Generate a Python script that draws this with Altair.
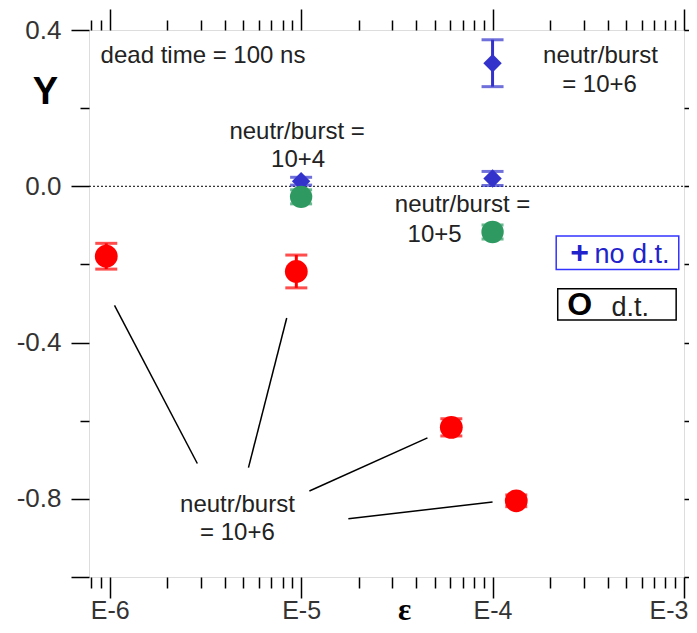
import altair as alt
import pandas as pd

# ---- data ----
red_x = [9.6e-7, 9.44e-6, 6.09e-5, 1.33e-4]
red_y = [-0.179, -0.218, -0.617, -0.805]
red_err = [0.033, 0.042, 0.022, 0.015]

green_x = [1.0e-5, 1.0e-4]
green_y = [-0.027, -0.117]
green_err = [0.018, 0.018]

blue_x = [1.0e-5, 1.0e-4, 1.0e-4]
blue_y = [0.013, 0.020, 0.315]
blue_err = [0.010, 0.018, 0.060]

x_ticks = [k * 10.0 ** d for d in range(-7, -3) for k in range(1, 10) if 7.8e-7 <= k * 10.0 ** d <= 1e-3] + [1e-3]
y_ticks = [0.4, 0.2, 0.0, -0.2, -0.4, -0.6, -0.8, -1.0]

# annotation lines (segment id, x, y)
seg_id = [1, 1, 2, 2, 3, 3, 4, 4]
seg_x = [1.06e-6, 2.87e-6, 8.41e-6, 5.31e-6, 1.105e-5, 4.57e-5, 1.765e-5, 1.0e-4]
seg_y = [-0.305, -0.7095, -0.337, -0.72, -0.78, -0.644, -0.851, -0.808]

# annotation texts
note_left = ["dead time = 100 ns"]
note_left_x = [8.97e-7]
note_left_y = [0.315]
txt = ["neutr/burst", "= 10+6", "neutr/burst =", "10+4",
       "neutr/burst =", "10+5", "neutr/burst", "= 10+6"]
txt_x = [3.66e-4, 3.62e-4, 9.53e-6, 9.65e-6, 6.97e-5, 4.98e-5, 4.65e-6, 4.65e-6]
txt_y = [0.315, 0.242, 0.122, 0.049, -0.066, -0.143, -0.833, -0.905]

# legend boxes
box_x = [2.15e-4, 2.19e-4]
box_x2 = [9.39e-4, 9.1e-4]
box_y = [-0.127, -0.262]
box_y2 = [-0.213, -0.342]
box_col = ["#3333FF", "#000000"]

leg_sym = ["+", "O"]
leg_sym_x = [2.85e-4, 2.85e-4]
leg_sym_y = [-0.172, -0.305]
leg_sym_col = ["#2222CC", "#000000"]
leg_lab = ["no d.t.", "d.t."]
leg_lab_x = [3.41e-4, 4.18e-4]
leg_lab_y = [-0.196, -0.331]
leg_lab_col = ["#2222CC", "#222222"]

# ---- frames ----
def pts(xs, ys, es, name):
    return pd.DataFrame({"x": xs, "y": ys, "lo": [a - b for a, b in zip(ys, es)],
                         "hi": [a + b for a, b in zip(ys, es)], "s": name})

red = pts(red_x, red_y, red_err, "red")
green = pts(green_x, green_y, green_err, "green")
blue = pts(blue_x, blue_y, blue_err, "blue")

def caps(df):
    return pd.DataFrame({"x": list(df.x) * 2, "y": list(df.lo) + list(df.hi)})

segs = pd.DataFrame({"id": seg_id, "x": seg_x, "y": seg_y})
texts = pd.DataFrame({"t": txt, "x": txt_x, "y": txt_y})
texts_l = pd.DataFrame({"t": note_left, "x": note_left_x, "y": note_left_y})
boxes = pd.DataFrame({"x": box_x, "x2": box_x2, "y": box_y, "y2": box_y2, "c": box_col})
lsym = pd.DataFrame({"t": leg_sym, "x": leg_sym_x, "y": leg_sym_y, "c": leg_sym_col})
llab = pd.DataFrame({"t": leg_lab, "x": leg_lab_x, "y": leg_lab_y, "c": leg_lab_col})
zero = pd.DataFrame({"y": [0.0]})

xs = alt.Scale(type="log", domain=[7.8e-7, 1e-3], nice=False)
ys = alt.Scale(domain=[-1.0, 0.4], nice=False, zero=False)

major_x = "abs(log(datum.value)/LN10 - round(log(datum.value)/LN10)) < 0.001"
x_label = "abs(log(datum.value)/LN10 - round(log(datum.value)/LN10)) < 0.001 ? 'E' + round(log(datum.value)/LN10) : ''"
major_y = "abs(datum.value*10 - round(datum.value*10/4)*4) < 0.001 || datum.value < -0.95"
y_label = ("(abs(datum.value*10 - round(datum.value*10/4)*4) < 0.001 && datum.value > -0.95) ? "
           "((datum.value < 0 ? '-' : '') + format(abs(datum.value), '.1f')) : ''")

FONT = "Liberation Sans"

x_bottom = alt.Axis(orient="bottom", values=x_ticks, labelExpr=x_label, domain=False, grid=False,
                    tickSize={"condition": {"test": major_x, "value": 21}, "value": 11},
                    tickColor="black", tickWidth=1.5, labelFont=FONT, labelFontSize=25,
                    labelColor="#333333", labelPadding=0, labelFlush=True, labelFlushOffset=4,
                    labelOverlap=False,
                    labelBound=False, title="ε", titleFont="Liberation Serif", titleFontWeight="bold",
                    titleFontSize=31, titleX=315, titleY=33, titleAlign="center",
                    titleBaseline="middle", titleColor="black")
y_left = alt.Axis(orient="left", values=y_ticks, labelExpr=y_label, domain=False, grid=False,
                  tickSize={"condition": {"test": major_y, "value": 18}, "value": 9},
                  tickColor="black", tickWidth=1.5, labelFont=FONT, labelFontSize=26,
                  labelColor="#333333", labelPadding=10, labelOverlap=False, labelFlush=False,
                  labelBound=False, title="Y", titleAngle=0, titleFont=FONT, titleFontWeight="bold",
                  titleFontSize=38, titleX=-44, titleY=62, titleAlign="center",
                  titleBaseline="middle", titleColor="black")
x_top = alt.Axis(orient="top", values=x_ticks, labels=False, domain=False, grid=False,
                 tickSize={"condition": {"test": major_x, "value": 21}, "value": 10},
                 tickColor="black", tickWidth=1.5, title=None)
y_right = alt.Axis(orient="right", values=y_ticks, labels=False, domain=False, grid=False,
                   tickSize=5, tickColor="black", tickWidth=1.5, title=None)

zero_line = alt.Chart(zero).mark_rule(color="black", strokeWidth=1, strokeDash=[2, 2]).encode(
    x=alt.value(0), x2=alt.value(595),
    y=alt.Y("y:Q", scale=ys, axis=None),
)
base_axes = alt.Chart(segs).mark_line(color="black", strokeWidth=1.5).encode(
    x=alt.X("x:Q", scale=xs, axis=x_bottom),
    y=alt.Y("y:Q", scale=ys, axis=y_left),
    detail="id:N",
)
top_axes = alt.Chart(boxes).mark_rect(fill="white", strokeWidth=1.5).encode(
    x=alt.X("x:Q", scale=xs, axis=x_top),
    x2="x2:Q",
    y=alt.Y("y:Q", scale=ys, axis=y_right),
    y2="y2:Q",
    stroke=alt.Color("c:N", scale=None),
)

def series(df, color, shape, size):
    bars = alt.Chart(df).mark_rule(color=color, strokeWidth=3).encode(
        x=alt.X("x:Q", scale=xs, axis=None),
        y=alt.Y("lo:Q", scale=ys, axis=None), y2="hi:Q")
    cp = alt.Chart(caps(df)).mark_tick(color=color, orient="horizontal", size=22, thickness=3).encode(
        x=alt.X("x:Q", scale=xs, axis=None),
        y=alt.Y("y:Q", scale=ys, axis=None))
    mk = alt.Chart(df).mark_point(shape=shape, filled=True, color=color, size=size, opacity=1).encode(
        x=alt.X("x:Q", scale=xs, axis=None),
        y=alt.Y("y:Q", scale=ys, axis=None))
    return [bars, cp, mk]

text_layer = alt.Chart(texts).mark_text(font=FONT, fontSize=24, color="#222222",
                                        baseline="alphabetic", align="center").encode(
    x=alt.X("x:Q", scale=xs, axis=None),
    y=alt.Y("y:Q", scale=ys, axis=None),
    text="t:N",
)
text_left = alt.Chart(texts_l).mark_text(font=FONT, fontSize=24, color="#222222",
                                         baseline="alphabetic", align="left").encode(
    x=alt.X("x:Q", scale=xs, axis=None),
    y=alt.Y("y:Q", scale=ys, axis=None),
    text="t:N",
)
sym_layer = alt.Chart(lsym).mark_text(font=FONT, fontSize=32, fontWeight="bold", baseline="middle").encode(
    x=alt.X("x:Q", scale=xs, axis=None),
    y=alt.Y("y:Q", scale=ys, axis=None),
    text="t:N",
    color=alt.Color("c:N", scale=None),
)
lab_layer = alt.Chart(llab).mark_text(font=FONT, fontSize=27, align="left", baseline="alphabetic").encode(
    x=alt.X("x:Q", scale=xs, axis=None),
    y=alt.Y("y:Q", scale=ys, axis=None),
    text="t:N",
    color=alt.Color("c:N", scale=None),
)

layers = [base_axes, top_axes, zero_line]
layers += series(blue, "#3333CC", "diamond", 340)
layers += series(green, "#2E9A62", "circle", 500)
layers += series(red, "#FF0000", "circle", 520)
layers += [text_layer, text_left, sym_layer, lab_layer]

chart = alt.layer(*layers).resolve_axis(x="independent", y="independent").properties(
    width=595, height=547,
    autosize=alt.AutoSizeParams(type="none"),
    padding={"left": 81, "top": 22, "right": 5, "bottom": 48},
).configure_view(stroke="black", strokeWidth=3).configure(background="white")

chart.save("out.html", embed_options={"renderer": "svg", "actions": False})
